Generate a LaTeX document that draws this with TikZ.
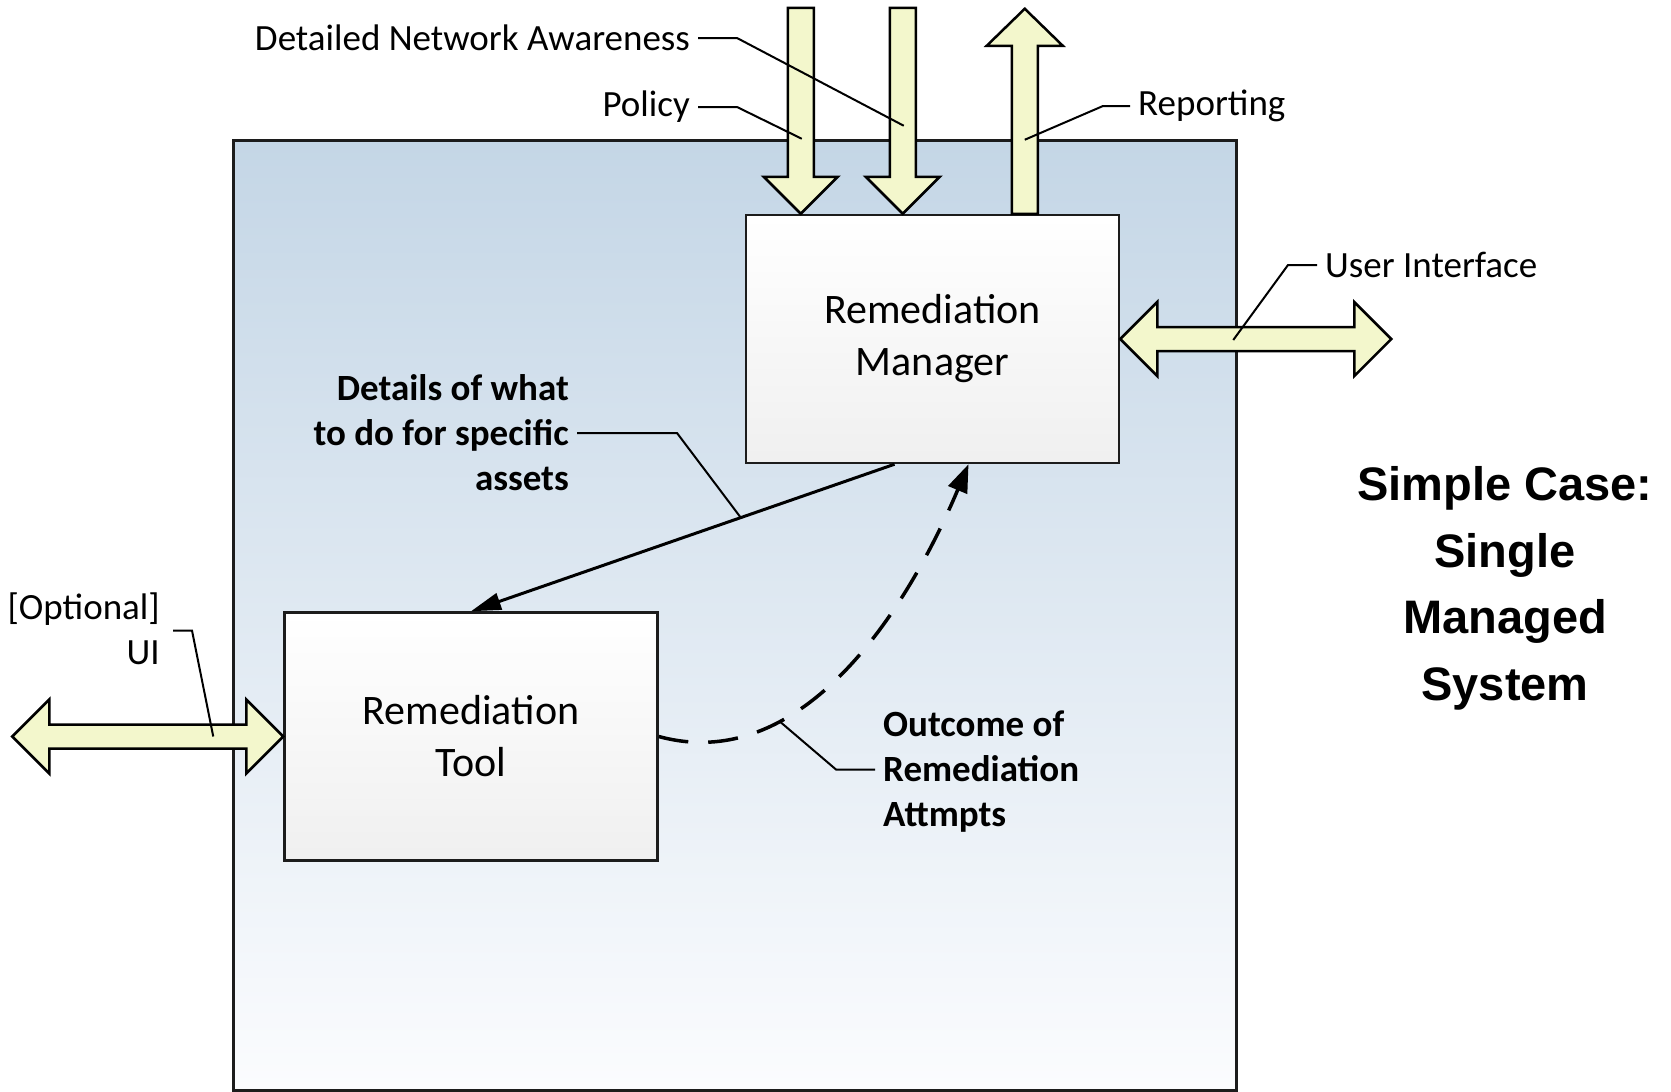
\documentclass[tikz,border=0pt]{standalone}
\usepackage{fontspec}
\setmainfont{Carlito}
\newfontfamily\titlefont{Liberation Sans}
\usetikzlibrary{calc,arrows.meta}

\definecolor{sysTop}{RGB}{196,214,230}
\definecolor{sysBot}{RGB}{251,252,254}
\definecolor{flow}{RGB}{243,247,204}
\definecolor{edge}{RGB}{28,28,28}

\begin{document}
\begin{tikzpicture}[x=1pt,y=-1pt,
  system/.style={draw=edge, line width=3pt, top color=sysTop, bottom color=sysBot,
    minimum width=1003pt, minimum height=950pt, inner sep=0pt},
  unit/.style={draw=edge, line width=2.5pt, top color=white, bottom color=black!6,
    minimum width=373pt, minimum height=248pt, align=center,
    font=\fontsize{42}{52}\selectfont},
  blockflow/.style={draw=black, line width=2.5pt, fill=flow, line join=miter},
  leader/.style={draw=black, line width=2pt},
  lbl/.style={inner sep=0pt, font=\fontsize{37}{45}\selectfont},
  blbl/.style={inner sep=0pt, font=\fontsize{37}{45}\selectfont\bfseries},
  cmd/.style={line width=3pt, -{Triangle[length=30pt,width=17pt]}},
  outcomeflow/.style={line width=3.5pt, dash pattern=on 30pt off 20pt,
    -{Triangle[length=28pt,width=20pt]}}
]
\useasboundingbox (0,0) rectangle (1671,1092);
\fill[white] (0,0) rectangle (1671,1092);

% managed system and its two components
\node[system] (sys) at (734.5,615) {};
\node[unit] (mgr) at (932.5,339) {\raisebox{-3pt}{\begin{tabular}{@{}c@{}}Remediation\\[-0.2pt]Manager\end{tabular}}};
\node[unit] (tool) at (471,736.5) {Remediation\\Tool};

% attachment points of the block arrows
\coordinate (pTip)  at ($(mgr.north west)+(56,0)$);
\coordinate (dTip)  at ($(mgr.north west)+(158,0)$);
\coordinate (rBase) at ($(mgr.north west)+(280,0)$);
\coordinate (uiL)   at (mgr.east);
\coordinate (optR)  at (tool.west);

% Policy (in)
\draw[blockflow] (pTip) -- ++(-37,-37) -- ++(24,0) -- ++(0,-169) -- ++(26,0)
  -- ++(0,169) -- ++(24,0) -- cycle;
% Detailed network awareness (in)
\draw[blockflow] (dTip) -- ++(-37,-37) -- ++(24,0) -- ++(0,-169) -- ++(26,0)
  -- ++(0,169) -- ++(24,0) -- cycle;
% Reporting (out)
\draw[blockflow] ($(rBase)+(-13,0)$) -- ++(0,-168) -- ++(-25,0) -- ++(38,-37)
  -- ++(38,37) -- ++(-25,0) -- ++(0,168) -- cycle;
% User interface (both ways)
\draw[blockflow] (uiL) -- ++(37,-37) -- ++(0,25) -- ++(197,0) -- ++(0,-25)
  -- ++(37,37) -- ++(-37,37) -- ++(0,-25) -- ++(-197,0) -- ++(0,25) -- cycle;
% Optional UI of the tool (both ways)
\draw[blockflow] (optR) -- ++(-37,-37) -- ++(0,25) -- ++(-197,0) -- ++(0,-25)
  -- ++(-37,37) -- ++(37,37) -- ++(0,-25) -- ++(197,0) -- ++(0,25) -- cycle;

% instructions from manager to tool
\coordinate (cmdFrom) at ($(mgr.south)+(-38,0)$);
\draw[cmd] (cmdFrom) -- (tool.north);
\coordinate (cmdMid) at ($(cmdFrom)!0.363!(tool.north)$);

% results reported back
\draw[outcomeflow] (tool.east) .. controls (800,775) and (905,615) ..
  ($(mgr.south)+(36,0)$) coordinate[pos=0.31] (resMid);

% labels and their leaders
\node[lbl, anchor=east] (dna) at (690,38) {Detailed Network Awareness};
\draw[leader] ($(dna.east)+(8,0)$) -- ++(39,0) -- ($(dTip)+(1,-88)$);

\node[lbl, anchor=east] (pol) at (690,107) {Policy};
\draw[leader] ($(pol.east)+(8,0)$) -- ++(39,0) -- ($(pTip)+(1,-75)$);

\node[lbl, anchor=west] (rep) at (1138,106) {Reporting};
\draw[leader] ($(rep.west)+(-8,0)$) -- ++(-27,0) -- ($(rBase)+(0,-74)$);

\node[lbl, anchor=west] (uif) at (1325,265) {User Interface};
\draw[leader] ($(uif.west)+(-8,0)$) -- ++(-29,0) -- ($(uiL)+(113,1)$);

\node[lbl, anchor=east, align=right] (opt) at (160,628.5) {[Optional]\\UI};
\draw[leader] ($(opt.east)+(13,2)$) -- ++(19,0) -- ($(optR)+(-70,0)$);

\node[blbl, anchor=east, align=right] (details) at (569,433)
  {Details of what\\to do for specific\\assets};
\draw[leader] ($(details.east)+(8,0)$) -- ++(100,0) -- (cmdMid);

\node[blbl, anchor=west, align=left] (outcome) at (883,771.5)
  {Outcome of\\Remediation\\Attmpts};
\draw[leader] ($(outcome.west)+(-8,-2)$) -- ++(-39,0) -- (resMid);

\node[font=\titlefont\bfseries\fontsize{47}{66.5}\selectfont, align=center]
  (title) at (1505,588.5) {Simple Case:\\Single\\Managed\\System};
\end{tikzpicture}
\end{document}
